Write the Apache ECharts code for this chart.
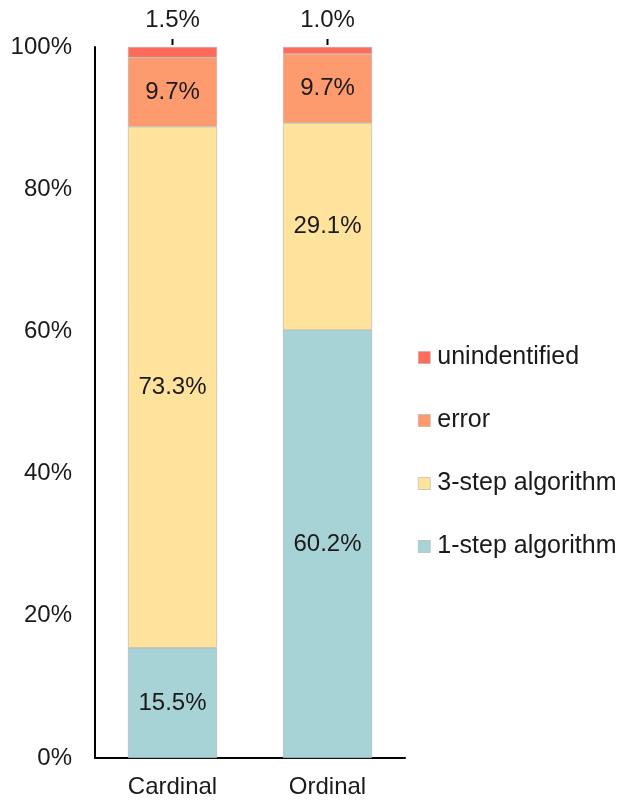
<!DOCTYPE html>
<html><head><meta charset="utf-8">
<script src="https://cdn.jsdelivr.net/npm/echarts@6/dist/echarts.min.js"></script>
<style>html,body{margin:0;padding:0;background:#fff}#c{width:620px;height:802px}</style>
</head><body><div id="c"></div>
<script>
var categories = ['Cardinal', 'Ordinal'];
var oneStep = [15.5, 60.2];
var threeStep = [73.3, 29.1];
var errorVals = [9.7, 9.7];
var unidentified = [1.5, 1.0];
var yTicks = [0, 20, 40, 60, 80, 100];

var font = '"Liberation Sans", Arial, sans-serif';
var txt = '#1a1a1a';
function mk(name, data, color, top) {
  return {
    name: name, type: 'bar', stack: 's', data: data, barWidth: 89,
    itemStyle: { color: color, borderColor: '#b0b0b0', borderWidth: 0.6 },
    label: top ? {
      show: true, position: 'top', distance: 2,
      formatter: function (p) { return '{v|' + p.value.toFixed(1) + '%}\n{t|}'; },
      rich: {
        v: { fontSize: 24, fontFamily: font, color: txt, lineHeight: 24, padding: [0,0,14,0] },
        t: { width: 2, height: 6, backgroundColor: '#000' }
      }
    } : {
      show: true, position: 'inside', fontSize: 24, fontFamily: font, color: txt,
      formatter: function (p) { return p.value.toFixed(1) + '%'; }
    }
  };
}
var chart = echarts.init(document.getElementById('c'));
chart.setOption({
  animation: false,
  grid: { left: 95, top: 47, width: 310, bottom: 44 },
  legend: {
    orient: 'vertical', left: 413, top: 340, itemWidth: 12, itemHeight: 12, itemGap: 38,
    icon: 'rect',
    itemStyle: { borderColor: '#b0b0b0', borderWidth: 0.6 },
    textStyle: { fontSize: 25, fontFamily: font, color: txt, padding: [0,0,0,2] },
    data: ['unindentified', 'error', '3-step algorithm', '1-step algorithm']
  },
  xAxis: {
    type: 'category', data: categories,
    axisLine: { lineStyle: { color: '#000', width: 2 } },
    axisTick: { show: false },
    axisLabel: { fontSize: 24, fontFamily: font, color: txt, margin: 17 }
  },
  yAxis: {
    type: 'value', min: yTicks[0], max: yTicks[yTicks.length - 1], interval: 20,
    axisLine: { show: true, lineStyle: { color: '#000', width: 2 } },
    axisTick: { show: false }, splitLine: { show: false },
    axisLabel: { fontSize: 24, fontFamily: font, color: txt, margin: 23, formatter: '{value}%' }
  },
  series: [
    mk('1-step algorithm', oneStep, '#A8D3D6'),
    mk('3-step algorithm', threeStep, '#FFE29C'),
    mk('error', errorVals, '#FE9B6E'),
    mk('unindentified', unidentified, '#FE6B5B', true)
  ]
});
</script></body></html>
